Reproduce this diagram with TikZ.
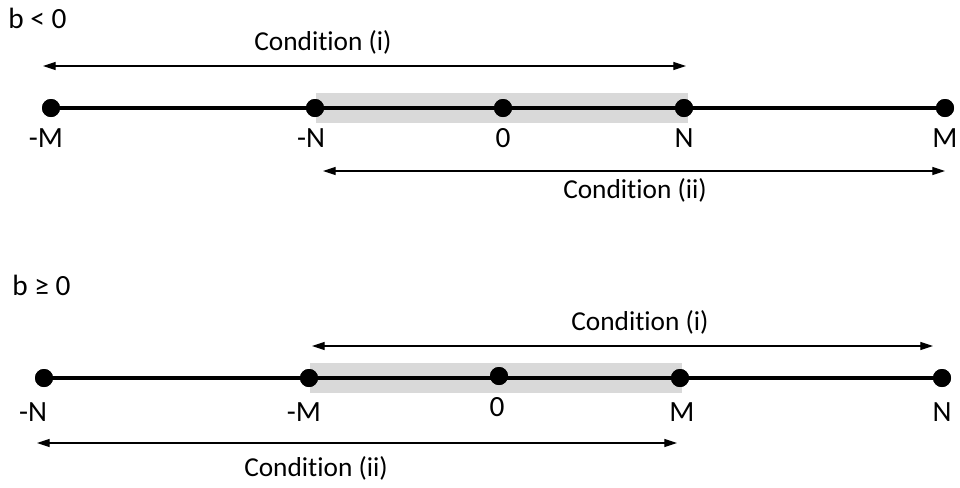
\documentclass[tikz,border=0pt]{standalone}
\usepackage{fontspec}
\setmainfont[Ligatures=NoCommon]{Carlito}
\usetikzlibrary{arrows.meta}
\begin{document}
\begin{tikzpicture}[x=0.75pt,y=-0.75pt,
  dot/.style={circle,fill=black,inner sep=0pt,minimum size=13.5pt},
  lbl/.style={font=\fontsize{22}{24}\selectfont,inner sep=0pt,anchor=base},
  cond/.style={font=\fontsize{20.5}{23}\selectfont,inner sep=0pt,anchor=base},
  axisline/.style={line width=2.7pt},
  span/.style={line width=0.9pt,{Triangle[length=9.5pt,width=6pt]}-{Triangle[length=9.5pt,width=6pt]}},
  band/.style={fill=black!15,draw=none}]
\useasboundingbox (0,0) rectangle (960,487);
% ---------- top: b < 0 ----------
\node[lbl,anchor=base west] (t1) at (8,28) {b < 0};
\fill[band] (316,93) rectangle (688,123);
\node[dot] (amM) at (51,108) {};
\node[dot] (amN) at (315,108) {};
\node[dot] (a0) at (503,108) {};
\node[dot] (aN) at (684,108) {};
\node[dot] (aM) at (945,108) {};
\draw[axisline] (amM.center) -- (aM.center);
\foreach \n in {amM,amN,a0,aN,aM} \fill (\n) circle (6.75pt);
\node[lbl] (lamM) at (46,147) {-M};
\node[lbl] (lamN) at (311,147) {-N};
\node[lbl] (la0) at (503,147) {0};
\node[lbl] (laN) at (684,147) {N};
\node[lbl] (laM) at (945,147) {M};
\coordinate (ai1) at (43,66);
\coordinate (ai2) at (686,66);
\draw[span] (ai1) -- (ai2);
\node[cond] (aci) at (323,50) {Condition (i)};
\coordinate (aii1) at (323,171);
\coordinate (aii2) at (945,171);
\draw[span] (aii1) -- (aii2);
\node[cond] (acii) at (635,198) {Condition (ii)};
% ---------- bottom: b >= 0 ----------
\node[lbl,anchor=base west] (t2) at (12,295) {b ≥ 0};
\fill[band] (310,363) rectangle (682,393);
\node[dot] (bmN) at (44,378) {};
\node[dot] (bmM) at (309,378) {};
\node[dot] (b0) at (499,376) {};
\node[dot] (bM) at (680,378) {};
\node[dot] (bN) at (942,378) {};
\draw[axisline] (bmN.center) -- (bN.center);
\foreach \n in {bmN,bmM,b0,bM,bN} \fill (\n) circle (6.75pt);
\node[lbl] (lbmN) at (33,421) {-N};
\node[lbl] (lbmM) at (304,421) {-M};
\node[lbl] (lb0) at (497,416) {0};
\node[lbl] (lbM) at (682,421) {M};
\node[lbl] (lbN) at (942,421) {N};
\coordinate (bi1) at (312,346);
\coordinate (bi2) at (933,346);
\draw[span] (bi1) -- (bi2);
\node[cond] (bci) at (640,330) {Condition (i)};
\coordinate (bii1) at (37,443);
\coordinate (bii2) at (677,443);
\draw[span] (bii1) -- (bii2);
\node[cond] (bcii) at (316,476) {Condition (ii)};
\end{tikzpicture}
\end{document}
